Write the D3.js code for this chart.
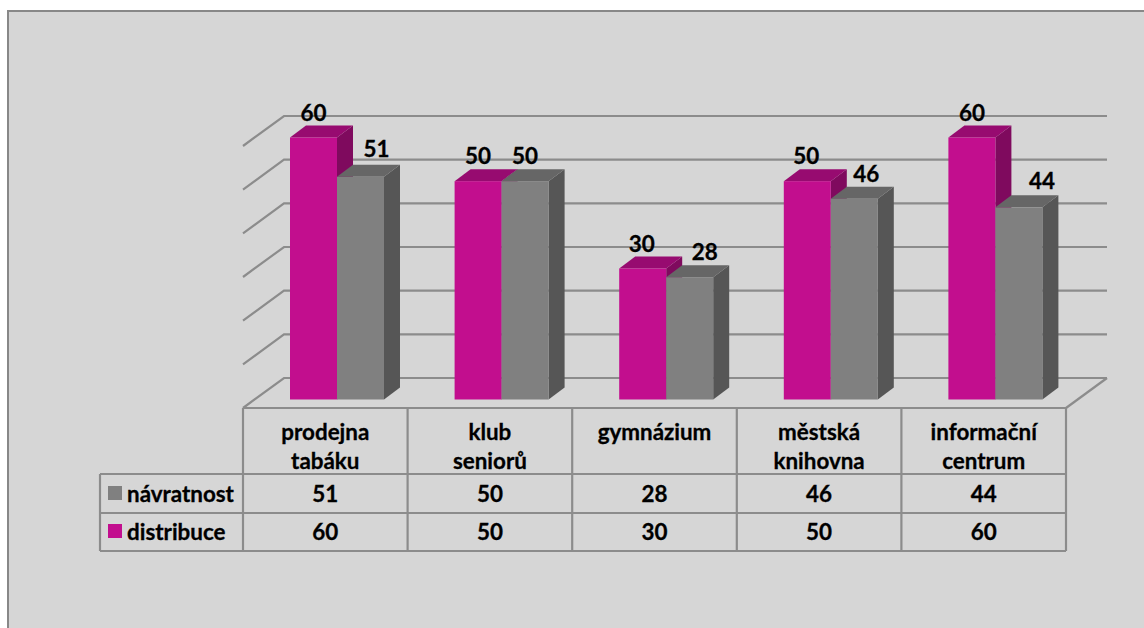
<!DOCTYPE html>
<html>
<head>
<meta charset="utf-8">
<script src="https://cdn.jsdelivr.net/npm/d3@7"></script>
<style>
  html, body { margin: 0; padding: 0; background: #fff; overflow: hidden; }
  text { font-family: Lato, "Open Sans", sans-serif; font-weight: 700; fill: #000; stroke: #000; stroke-width: 0.3px; }
</style>
</head>
<body>
<div id="chart"></div>
<script>
// chart data
const categories = [['prodejna', 'tabáku'], ['klub', 'seniorů'], ['gymnázium'], ['městská', 'knihovna'], ['informační', 'centrum']];
const navratnost = [51, 50, 28, 46, 44];
const distribuce = [60, 50, 30, 50, 60];
const yTicks = [0, 10, 20, 30, 40, 50, 60];

// label nudges from the bar centre, [dx, gap above the front edge]
const nudgeDistribuce = [[0, 17], [0, 17], [-1, 17], [-1, 17], [0, 17]];
const nudgeNavratnost = [[16, 20], [0, 17], [15, 17], [12, 17], [23, 18]];

const FONT = 22.4;
const PINK = { front: '#c20e8e', top: '#970b70', side: '#7f0a5e' };
const GREY = { front: '#808080', top: '#666666', side: '#565656' };
const LINE = '#8c8c8c';

// floor: front edge and how far the back wall is shifted from it
const left = 243, right = 1066, floorY = 408, rowCat = 474, rowNav = 513, rowDis = 551, legendX = 100;
const wallDx = 41, wallDy = 30;
const depthX = 16, depthY = 12;
const frontDrop = 21.5;

const svg = d3.select('#chart').append('svg')
  .attr('width', 1144)
  .attr('height', 628)
  .style('display', 'block');

// panel
svg.append('rect')
  .attr('x', 8).attr('y', 11)
  .attr('width', 1140).attr('height', 620)
  .attr('fill', '#d6d6d6')
  .attr('stroke', '#888888')
  .attr('stroke-width', 2);

// set the ranges
const x = d3.scaleBand().domain(d3.range(categories.length)).range([left, right]);
const inner = d3.scaleBand().domain(['distribuce', 'navratnost']).range([47, 47 + 94]);
const y = d3.scaleLinear().domain([0, 60]).range([378, 116]);

// back wall grid
const grid = svg.append('g')
  .attr('fill', 'none')
  .attr('stroke', LINE)
  .attr('stroke-width', 2.2);

grid.selectAll('path')
  .data(yTicks)
  .join('path')
  .attr('d', d => `M${left},${y(d) + wallDy}L${left + wallDx},${y(d)}H${right + wallDx}`);

// floor right edge
grid.append('path')
  .attr('d', `M${right + wallDx},${y(0)}L${right},${floorY}`);

// one 3d bar
function drawBar (g, cx, w, value, col) {
  const x0 = cx, x1 = cx + w;
  const yTop = y(value) + frontDrop, yBase = y(0) + frontDrop;
  g.append('path').attr('fill', col.side)
    .attr('d', `M${x1},${yTop}L${x1 + depthX},${yTop - depthY}V${yBase - depthY}L${x1},${yBase}Z`);
  g.append('path').attr('fill', col.top)
    .attr('d', `M${x0},${yTop}L${x0 + depthX},${yTop - depthY}H${x1 + depthX}L${x1},${yTop}Z`);
  g.append('rect').attr('fill', col.front)
    .attr('x', x0).attr('y', yTop)
    .attr('width', w).attr('height', yBase - yTop);
}

const bars = svg.append('g');
categories.forEach((c, i) => {
  drawBar(bars, x(i) + inner('distribuce'), inner.bandwidth(), distribuce[i], PINK);
  drawBar(bars, x(i) + inner('navratnost'), inner.bandwidth(), navratnost[i], GREY);
});

// value labels over the bars
categories.forEach((c, i) => {
  svg.append('text')
    .attr('x', x(i) + inner('distribuce') + inner.bandwidth() / 2 + nudgeDistribuce[i][0])
    .attr('y', y(distribuce[i]) + frontDrop - nudgeDistribuce[i][1])
    .attr('text-anchor', 'middle')
    .style('font-size', FONT + 'px')
    .text(distribuce[i]);
  svg.append('text')
    .attr('x', x(i) + inner('navratnost') + inner.bandwidth() / 2 + nudgeNavratnost[i][0])
    .attr('y', y(navratnost[i]) + frontDrop - nudgeNavratnost[i][1])
    .attr('text-anchor', 'middle')
    .style('font-size', FONT + 'px')
    .text(navratnost[i]);
});

// data table
const table = svg.append('g')
  .attr('fill', 'none')
  .attr('stroke', LINE)
  .attr('stroke-width', 2.2);

table.append('path').attr('d', `M${left},${floorY}H${right}`);
table.append('path').attr('d', `M${legendX},${rowCat}H${right}`);
table.append('path').attr('d', `M${legendX},${rowNav}H${right}`);
table.append('path').attr('d', `M${legendX},${rowDis}H${right}`);
table.append('path').attr('d', `M${legendX},${rowCat}V${rowDis}`);
d3.range(categories.length + 1).forEach(i => {
  const xx = i < categories.length ? x(i) : right;
  table.append('path').attr('d', `M${xx},${floorY}V${rowDis}`);
});

// table text
categories.forEach((c, i) => {
  const cx = x(i) + x.bandwidth() / 2;
  c.forEach((line, j) => {
    svg.append('text')
      .attr('x', cx).attr('y', 440 + j * 29)
      .attr('text-anchor', 'middle')
      .style('font-size', FONT + 'px')
      .text(line);
  });
  svg.append('text')
    .attr('x', cx).attr('y', 502)
    .attr('text-anchor', 'middle')
    .style('font-size', FONT + 'px')
    .text(navratnost[i]);
  svg.append('text')
    .attr('x', cx).attr('y', 540)
    .attr('text-anchor', 'middle')
    .style('font-size', FONT + 'px')
    .text(distribuce[i]);
});

// legend keys
svg.append('rect').attr('x', 108).attr('y', 486).attr('width', 14).attr('height', 14).attr('fill', GREY.front);
svg.append('rect').attr('x', 108).attr('y', 524).attr('width', 14).attr('height', 14).attr('fill', PINK.front);
svg.append('text').attr('x', 127).attr('y', 502).style('font-size', FONT + 'px').text('návratnost');
svg.append('text').attr('x', 127).attr('y', 540).style('font-size', FONT + 'px').text('distribuce');
</script>
</body>
</html>
